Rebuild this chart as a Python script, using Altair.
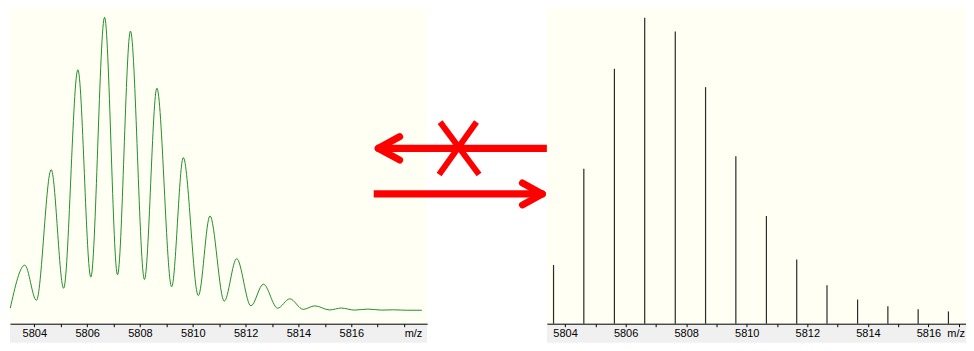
import altair as alt
import pandas as pd

# ---------------- data ----------------
# Left panel: profile spectrum, peak tops and valleys (% of base peak)
profile_mz = [5803.09, 5803.64, 5804.08, 5804.64, 5805.11, 5805.65, 5806.14, 5806.66,
              5807.15, 5807.64, 5808.17, 5808.64, 5809.20, 5809.64, 5810.21, 5810.65,
              5811.19, 5811.66, 5812.20, 5812.67, 5813.21, 5813.67, 5814.18, 5814.62,
              5815.18, 5815.62, 5816.12, 5816.63, 5817.14, 5817.60, 5818.10, 5818.67]
profile_int = [0.7, 15.4, 3.4, 48.0, 7.5, 82.1, 11.3, 100.0,
               12.1, 95.3, 10.5, 75.8, 8.0, 52.1, 5.0, 32.2,
               3.1, 17.6, 1.5, 8.9, 0.7, 3.9, 0.3, 1.5,
               0.1, 0.75, 0.05, 0.4, 0.05, 0.15, 0.0, 0.0]

# Right panel: centroided sticks (% of base peak)
stick_mz = [5803.62, 5804.62, 5805.63, 5806.63, 5807.64, 5808.64, 5809.64,
            5810.65, 5811.65, 5812.65, 5813.66, 5814.66, 5815.66, 5816.66]
stick_int = [19.2, 50.6, 83.3, 100.0, 95.5, 77.3, 54.7,
             35.2, 21.0, 12.6, 7.9, 5.7, 4.7, 4.0]

left_ticks = list(range(5804, 5819))
right_ticks = list(range(5804, 5818))
axis_unit = ["m/z"]

# Decorative arrows (page pixel coordinates)
shaft_x1 = [376.0, 372.5]
shaft_y1 = [148.3, 194.0]
shaft_x2 = [547.0, 542.0]
shaft_y2 = [148.3, 194.0]

head_x1 = [377.0, 377.0, 541.5, 541.5]
head_y1 = [148.3, 148.3, 194.0, 194.0]
head_x2 = [398.5, 398.5, 521.5, 521.5]
head_y2 = [136.5, 160.0, 183.0, 205.0]

cross_x1 = [439.0, 475.5]
cross_y1 = [122.0, 122.0]
cross_x2 = [478.0, 438.0]
cross_y2 = [174.5, 174.5]

# ---------------- styling ----------------
CREAM = "#FFFFF4"
GRAY = "#F0F0F0"
GREEN = "#23902A"
STICK = "#2b2b2b"
RED = "#FF0000"
FONT = "Liberation Sans"

H = 316
BAND = 19
LW, MW, RW = 418, 120, 420

axis_common = dict(
    title=None, grid=False, domainColor="black", tickColor="black",
    tickSize=3, labelPadding=1, labelFontSize=11, labelFont=FONT,
    labelColor="black", labelFlush=False, labelOverlap=False, zindex=1,
    domainWidth=1, tickWidth=1,
)

# ---------------- left panel ----------------
prof = pd.DataFrame({"mz": profile_mz, "inten": profile_int})
one = pd.DataFrame({"k": [0]})

left_x = alt.Scale(domain=[5803.08, 5818.87], nice=False, zero=False)
left_y = alt.Scale(domain=[-4.59, 103.05], nice=False, zero=False)

left_band = alt.Chart(one).mark_rect(color=GRAY).encode(
    x=alt.value(0), x2=alt.value(LW), y=alt.value(H), y2=alt.value(H + BAND)
)
left_line = alt.Chart(prof).mark_line(
    color=GREEN, strokeWidth=1, interpolate="monotone"
).encode(
    x=alt.X("mz:Q", scale=left_x, axis=alt.Axis(
        values=left_ticks,
        labelExpr="datum.value == 5818 ? 'm/z' : (datum.value % 2 == 0 ? datum.label : '')",
        labelAlign={"condition": {"test": "datum.value == 5818", "value": "left"}, "value": "center"},
        format="d",
        **axis_common)),
    y=alt.Y("inten:Q", scale=left_y, axis=None),
)
left = alt.layer(left_band, left_line).properties(
    width=LW, height=H, view=alt.ViewBackground(fill=CREAM, strokeWidth=0)
)

# ---------------- middle (arrows) ----------------
mx = alt.Scale(domain=[426, 426 + MW], nice=False, zero=False)
my = alt.Scale(domain=[8, 8 + H], nice=False, zero=False, reverse=True)

def seg_chart(x1, y1, x2, y2, width, cap):
    df = pd.DataFrame({"x1": x1, "y1": y1, "x2": x2, "y2": y2})
    return alt.Chart(df).mark_rule(color=RED, strokeWidth=width, strokeCap=cap).encode(
        x=alt.X("x1:Q", scale=mx, axis=None),
        y=alt.Y("y1:Q", scale=my, axis=None),
        x2="x2:Q", y2="y2:Q",
    )

middle = alt.layer(
    seg_chart(shaft_x1, shaft_y1, shaft_x2, shaft_y2, 7.3, "butt"),
    seg_chart(head_x1, head_y1, head_x2, head_y2, 7, "round"),
    seg_chart(cross_x1, cross_y1, cross_x2, cross_y2, 6, "butt"),
).properties(width=MW, height=H)

# ---------------- right panel ----------------
sticks = pd.DataFrame({"mz": stick_mz, "inten": stick_int})
right_x = alt.Scale(domain=[5803.40, 5817.24], nice=False, zero=False)
right_y = alt.Scale(domain=[0, 103.05], nice=False, zero=False)

right_band = alt.Chart(one).mark_rect(color=GRAY).encode(
    x=alt.value(0), x2=alt.value(RW), y=alt.value(H), y2=alt.value(H + BAND)
)
right_sticks = alt.Chart(sticks).mark_rule(color=STICK, strokeWidth=1.2).encode(
    x=alt.X("mz:Q", scale=right_x, axis=alt.Axis(
        values=right_ticks,
        labelExpr="datum.value % 2 == 0 ? datum.label : ''",
        format="d",
        **axis_common)),
    y=alt.Y("inten:Q", scale=right_y, axis=None),
    y2=alt.datum(0),
)
right_unit = alt.Chart(pd.DataFrame({"t": axis_unit})).mark_text(
    align="right", baseline="top", font=FONT, fontSize=11, color="black"
).encode(text="t:N", x=alt.value(RW - 1), y=alt.value(H + 4))

right = alt.layer(right_band, right_sticks, right_unit).properties(
    width=RW, height=H, view=alt.ViewBackground(fill=CREAM, strokeWidth=0)
)

chart = alt.hconcat(left, middle, right, spacing=0, bounds="flush").properties(
    padding=0, background="white"
).configure_view(strokeWidth=0)

chart.save("out.html", embed_options={"renderer": "svg", "actions": False})
